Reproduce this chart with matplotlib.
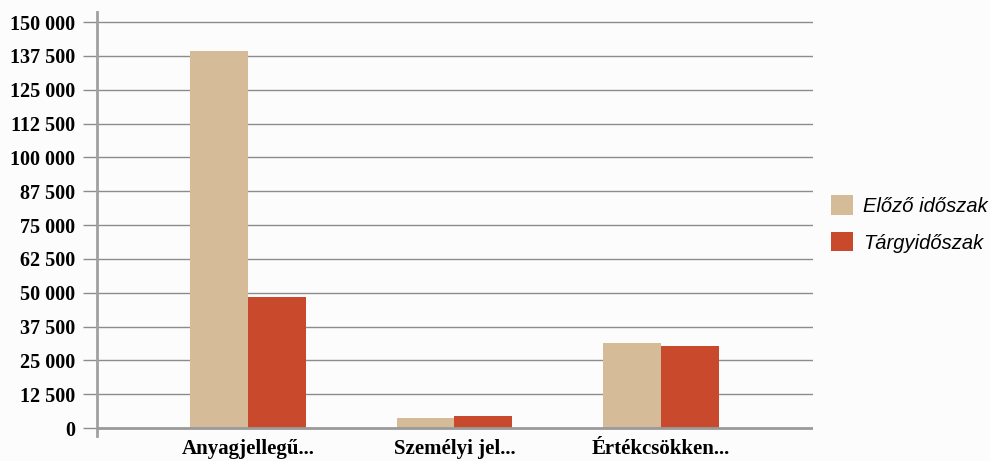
import numpy as np
import matplotlib.pyplot as plt

# Adatok
kategoriak = ['Anyagjellegű...', 'Személyi jel...', 'Értékcsökken...']
elozo = [139300, 3700, 31400]
targy = [48400, 4400, 30300]
sorozatok = ['Előző időszak', 'Tárgyidőszak']
y_tickek = np.arange(0, 150001, 12500)

szin_elozo = '#D5BB98'
szin_targy = '#C8492C'

fig = plt.figure(figsize=(9.9, 4.61), dpi=100, facecolor='#FCFCFC')
ax = fig.add_axes([0.098, 0.054, 0.723, 0.920])
ax.set_facecolor('#FCFCFC')

x = np.arange(len(kategoriak))
w = 0.28
ax.bar(x - w / 2, elozo, w, color=szin_elozo, label=sorozatok[0], zorder=3)
ax.bar(x + w / 2, targy, w, color=szin_targy, label=sorozatok[1], zorder=3)

ax.set_xlim(-0.731, 2.736)
ax.set_ylim(-2950, 153700)

# Rácsvonalak
ax.set_yticks(y_tickek)
ax.set_yticklabels([f'{v:,}'.replace(',', ' ') for v in y_tickek],
                   fontfamily='Liberation Serif', fontweight='bold', fontsize=14.5)
for v in y_tickek[1:]:
    ax.axhline(v, color='#8C8C8C', lw=1, zorder=1)
ax.axhline(0, color='#9A9A9A', lw=2, zorder=4)
ax.tick_params(axis='y', length=10, color='#8C8C8C', width=1, pad=6)

ax.set_xticks(x)
ax.set_xticklabels(kategoriak, fontfamily='Liberation Serif', fontweight='bold', fontsize=15)
ax.tick_params(axis='x', length=0, pad=2)

for s in ['top', 'right', 'bottom']:
    ax.spines[s].set_visible(False)
ax.spines['left'].set_color('#A0A0A0')
ax.spines['left'].set_linewidth(2)

leg = ax.legend(loc='center left', bbox_to_anchor=(1.0, 0.50), frameon=False,
                prop={'family': 'Liberation Sans', 'style': 'italic', 'size': 14.5},
                handlelength=1.1, handleheight=1.1, handletextpad=0.5, labelspacing=0.8)

fig.savefig('out.png', dpi=100, facecolor=fig.get_facecolor())
